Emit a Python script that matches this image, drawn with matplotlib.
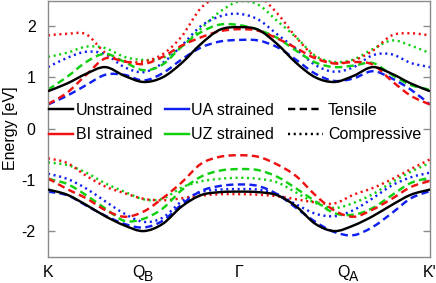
import matplotlib
matplotlib.use("Agg")
import matplotlib.pyplot as plt
import numpy as np
from matplotlib.path import Path
from matplotlib.patches import PathPatch
from matplotlib.lines import Line2D
from matplotlib.transforms import blended_transform_factory

plt.rcParams['font.family'] = ['Liberation Sans', 'DejaVu Sans']
plt.rcParams['axes.unicode_minus'] = False

# path coordinate along K - Q_B - Gamma - Q_A - K'
kpath = [0.0, 0.1, 0.2, 0.3, 0.4, 0.5, 0.6, 0.7, 0.8, 0.9, 1.0,
         1.1, 1.2, 1.3, 1.4, 1.5, 1.6, 1.7, 1.8, 1.9, 2.0]

tick_pos = [0.0, 0.471, 1.0, 1.547, 2.0]
tick_labels = ['K', 'Q', 'Γ', 'Q', "K'"]
sub_pos = [0.500, 1.577]
sub_labels = ['B', 'A']

# conduction bands
unstr_c = [0.73, 0.88, 1.07, 1.20, 1.03, 0.91, 1.00, 1.28, 1.65, 1.93, 1.98,
           1.93, 1.65, 1.28, 1.00, 0.91, 1.03, 1.20, 1.07, 0.88, 0.73]
bi_t_c = [0.48, 0.70, 1.05, 1.37, 1.31, 1.26, 1.40, 1.62, 1.78, 1.90, 1.94,
          1.91, 1.76, 1.57, 1.37, 1.27, 1.30, 1.25, 0.93, 0.64, 0.47]
bi_c_c = [1.82, 1.85, 1.84, 1.48, 1.32, 1.31, 1.45, 1.80, 2.35, 2.58, 2.65,
          2.60, 2.25, 1.78, 1.40, 1.28, 1.33, 1.52, 1.82, 1.86, 1.82]
ua_t_c = [0.47, 0.64, 0.85, 1.05, 1.05, 0.94, 1.08, 1.35, 1.58, 1.70, 1.73,
          1.72, 1.59, 1.34, 1.07, 0.93, 0.98, 1.12, 0.98, 0.76, 0.47]
ua_c_c = [1.20, 1.38, 1.50, 1.45, 1.20, 1.10, 1.28, 1.62, 2.00, 2.19, 2.24,
          2.13, 1.84, 1.55, 1.24, 1.11, 1.20, 1.43, 1.45, 1.28, 1.20]
uz_t_c = [0.76, 1.01, 1.30, 1.46, 1.30, 1.14, 1.25, 1.60, 1.88, 2.03, 2.02,
          1.93, 1.77, 1.52, 1.29, 1.20, 1.23, 1.28, 1.05, 0.85, 0.76]
uz_c_c = [1.40, 1.48, 1.60, 1.57, 1.40, 1.34, 1.38, 1.60, 1.95, 2.28, 2.48,
          2.42, 2.10, 1.78, 1.42, 1.30, 1.35, 1.55, 1.72, 1.62, 1.47]

# valence bands
unstr_v = [-1.19, -1.29, -1.49, -1.71, -1.89, -2.00, -1.86, -1.52, -1.30, -1.24, -1.23,
           -1.24, -1.30, -1.52, -1.86, -2.00, -1.89, -1.71, -1.49, -1.29, -1.19]
bi_t_v = [-0.97, -1.18, -1.36, -1.59, -1.72, -1.62, -1.36, -1.05, -0.69, -0.55, -0.52,
          -0.55, -0.70, -0.93, -1.30, -1.60, -1.72, -1.58, -1.37, -1.14, -1.02]
bi_c_v = [-0.58, -0.67, -0.92, -1.13, -1.26, -1.37, -1.40, -1.36, -1.31, -1.28, -1.28,
          -1.29, -1.32, -1.38, -1.44, -1.46, -1.29, -1.16, -0.99, -0.79, -0.60]
ua_t_v = [-1.23, -1.30, -1.50, -1.70, -1.86, -1.93, -1.80, -1.48, -1.22, -1.12, -1.09,
          -1.12, -1.28, -1.55, -1.82, -2.02, -2.08, -1.92, -1.65, -1.36, -1.22]
ua_c_v = [-0.88, -0.98, -1.17, -1.42, -1.66, -1.82, -1.74, -1.42, -1.24, -1.19, -1.18,
          -1.19, -1.28, -1.48, -1.66, -1.71, -1.59, -1.36, -1.11, -0.95, -0.86]
uz_t_v = [-0.98, -1.08, -1.30, -1.56, -1.80, -1.76, -1.56, -1.20, -0.94, -0.82, -0.79,
          -0.81, -0.94, -1.17, -1.42, -1.65, -1.68, -1.55, -1.30, -1.06, -0.96]
uz_c_v = [-0.66, -0.71, -0.86, -1.07, -1.23, -1.38, -1.37, -1.15, -1.03, -0.98, -0.96,
          -0.98, -1.05, -1.25, -1.45, -1.55, -1.45, -1.28, -1.05, -0.84, -0.67]

BLACK = '#000000'
RED = '#f01010'
BLUE = '#1020f0'
GREEN = '#10d010'
LW = 1.75
DASH = (0, (3.0, 1.8))
DOT = (0, (0.85, 1.5))


def smooth_curve(ax, xs, ys, color, ls, z=2):
    """Draw a smooth curve through the data points (Catmull-Rom as cubic Bezier)."""
    p = np.column_stack([xs, ys]).astype(float)
    n = len(p)
    verts = [p[0]]
    codes = [Path.MOVETO]
    for i in range(n - 1):
        p0 = p[i - 1] if i > 0 else p[i]
        p1 = p[i]
        p2 = p[i + 1]
        p3 = p[i + 2] if i + 2 < n else p[i + 1]
        c1 = p1 + (p2 - p0) / 6.0
        c2 = p2 - (p3 - p1) / 6.0
        verts += [c1, c2, p2]
        codes += [Path.CURVE4] * 3
    patch = PathPatch(Path(verts, codes), fill=False, edgecolor=color,
                      linewidth=LW, linestyle=ls, zorder=z,
                      capstyle='butt', joinstyle='round')
    ax.add_patch(patch)


fig = plt.figure(figsize=(4.36, 2.83), dpi=100)
ax = fig.add_axes([48 / 436, 1 - 256.7 / 283, 382 / 436, 256.2 / 283])

series = [
    (uz_c_c, GREEN, DOT), (ua_c_c, BLUE, DOT), (bi_c_c, RED, DOT),
    (uz_t_c, GREEN, DASH), (ua_t_c, BLUE, DASH), (bi_t_c, RED, DASH),
    (uz_c_v, GREEN, DOT), (ua_c_v, BLUE, DOT), (bi_c_v, RED, DOT),
    (uz_t_v, GREEN, DASH), (ua_t_v, BLUE, DASH), (bi_t_v, RED, DASH),
]
for ys, c, ls in series:
    smooth_curve(ax, kpath, ys, c, ls)
smooth_curve(ax, kpath, unstr_c, BLACK, '-', z=3)
smooth_curve(ax, kpath, unstr_v, BLACK, '-', z=3)

ax.set_xlim(0, 2)
ax.set_ylim(-2.5, 2.5)
ax.set_yticks([-2, -1, 0, 1, 2])
ax.set_xticks(tick_pos)
ax.set_xticklabels(tick_labels)
ax.set_xticks([1.0], minor=True)
ax.tick_params(axis='x', which='major', length=0, pad=6, labelsize=11.5)
ax.tick_params(axis='x', which='minor', direction='in', length=5,
               top=True, bottom=True, color='#8a8a8a', width=1)
ax.tick_params(axis='y', direction='in', length=5, right=True, pad=9,
               labelsize=11.5, color='#8a8a8a', width=1)
for s in ax.spines.values():
    s.set_color('#8a8a8a')
    s.set_linewidth(1.0)

# subscripts of the Q labels
blend = blended_transform_factory(ax.transData, ax.transAxes)
for xp, lab in zip(sub_pos, sub_labels):
    ax.text(xp, -0.050, lab, transform=blend, ha='left', va='top',
            fontsize=10, clip_on=False)

ax.set_ylabel('Energy [eV]', fontsize=11.5)
ax.yaxis.set_label_coords(-0.078, 0.5)

h1 = [Line2D([], [], color=BLACK, lw=LW), Line2D([], [], color=RED, lw=LW),
      Line2D([], [], color=BLUE, lw=LW), Line2D([], [], color=GREEN, lw=LW)]
l1 = ['Unstrained', 'BI strained', 'UA strained', 'UZ strained']
leg1 = ax.legend(h1, l1, ncol=2, loc='center left', bbox_to_anchor=(0.003, 0.524),
                 frameon=False, fontsize=11.5, handlelength=1.5, handletextpad=0.15,
                 columnspacing=0.75, labelspacing=0.6, borderpad=0, borderaxespad=0)
ax.add_artist(leg1)
h2 = [Line2D([], [], color=BLACK, lw=LW, linestyle=DASH),
      Line2D([], [], color=BLACK, lw=LW, linestyle=DOT)]
l2 = ['Tensile', 'Compressive']
ax.legend(h2, l2, ncol=1, loc='center left', bbox_to_anchor=(0.628, 0.524),
          frameon=False, fontsize=11.5, handlelength=2.2, handletextpad=0.3,
          labelspacing=0.6, borderpad=0, borderaxespad=0)

fig.savefig('out.png', dpi=100)
